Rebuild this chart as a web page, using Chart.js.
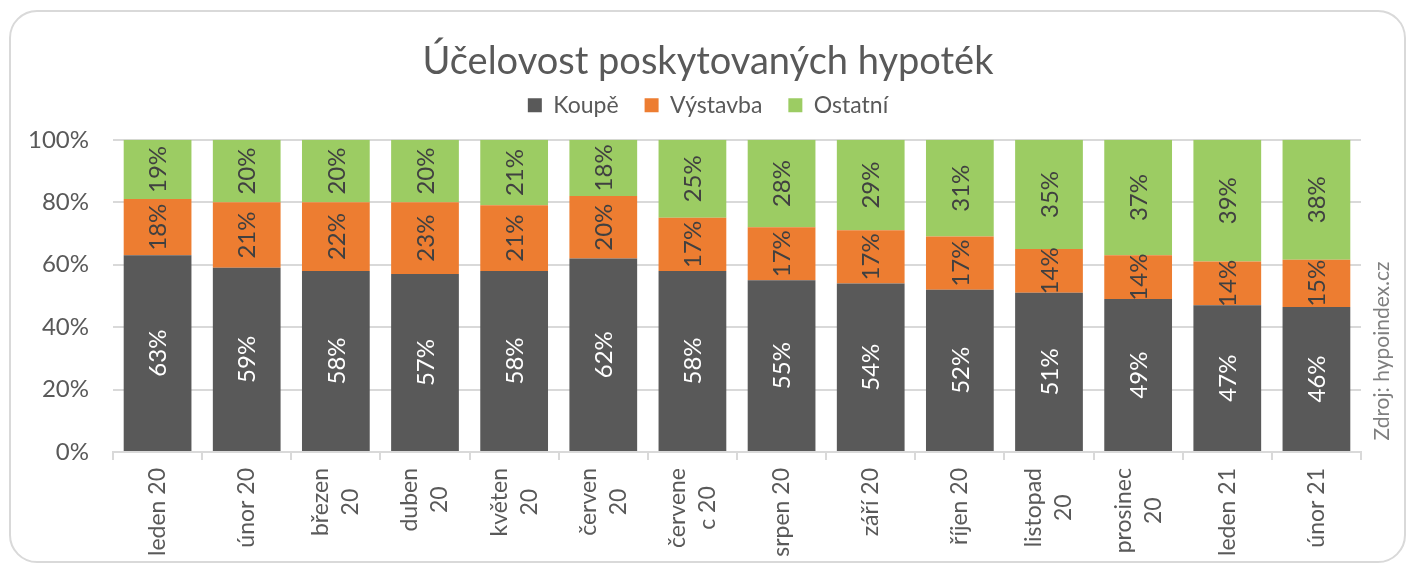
<!DOCTYPE html>
<html>
<head>
<meta charset="utf-8">
<script src="https://cdn.jsdelivr.net/npm/chart.js@4/dist/chart.umd.min.js"></script>
<style>
  html, body { margin: 0; padding: 0; background: #fff; }
  #frame { position: absolute; left: 9px; top: 10px; width: 1393px; height: 549px;
           border: 2px solid #d9d9d9; border-radius: 28px; }
  #wrap { position: absolute; left: 0; top: 0; width: 1416px; height: 570px; }
</style>
</head>
<body>
<div id="frame"></div>
<div id="wrap"><canvas id="chart" width="1416" height="570"></canvas></div>
<script>
// data
const months = ["leden 20", "únor 20", ["březen", "20"], ["duben", "20"], ["květen", "20"],
  ["červen", "20"], ["červene", "c 20"], "srpen 20", "září 20", "říjen 20",
  ["listopad", "20"], ["prosinec", "20"], "leden 21", "únor 21"];
const koupe    = [63, 59, 58, 57, 58, 62, 58, 55, 54, 52, 51, 49, 47, 46];
const vystavba = [18, 21, 22, 23, 21, 20, 17, 17, 17, 17, 14, 14, 14, 15];
const ostatni  = [19, 20, 20, 20, 21, 18, 25, 28, 29, 31, 35, 37, 39, 38];
const yTicks = [0, 20, 40, 60, 80, 100];

const FONT = "Lato";
const GRAY = "#595959";

// 100% stacked like excel: share of the month's total
const totals = koupe.map((v, i) => v + vystavba[i] + ostatni[i]);
const share = arr => arr.map((v, i) => v / totals[i] * 100);

const rawValues = [koupe, vystavba, ostatni];
const labelColors = ["#ffffff", "#404040", "#404040"];

// extra room under the legend and at the right for the source note
const spacers = {
  id: "spacers",
  beforeInit(chart) {
    Chart.layouts.addBox(chart, {
      position: "top", weight: 1, fullSize: true, options: {},
      update(maxW) { this.width = maxW; this.height = 13; },
      isHorizontal() { return true; },
      draw() {}
    });
    Chart.layouts.addBox(chart, {
      position: "right", weight: 1, fullSize: false, options: {},
      update(maxW, maxH) { this.width = 35; this.height = maxH; },
      isHorizontal() { return false; },
      draw() {}
    });
  }
};

// category labels, rotated, lines centred like excel does it
const xLabels = {
  id: "xLabels",
  afterDraw(chart) {
    const ctx = chart.ctx;
    const scale = chart.scales.x;
    const lh = 30;
    ctx.save();
    ctx.font = "23px " + FONT;
    ctx.fillStyle = GRAY;
    ctx.textAlign = "center";
    ctx.textBaseline = "middle";
    months.forEach((m, i) => {
      const lines = Array.isArray(m) ? m : [m];
      const w = Math.max(...lines.map(l => ctx.measureText(l).width));
      ctx.save();
      ctx.translate(scale.getPixelForTick(i), scale.top + 16);
      ctx.rotate(-Math.PI / 2);
      lines.forEach((l, k) => {
        ctx.fillText(l, -w / 2, (k - (lines.length - 1) / 2) * lh);
      });
      ctx.restore();
    });
    ctx.restore();
  }
};

const barLabels = {
  id: "barLabels",
  afterDatasetsDraw(chart) {
    const ctx = chart.ctx;
    ctx.save();
    ctx.font = "24px " + FONT;
    ctx.textAlign = "center";
    ctx.textBaseline = "middle";
    chart.data.datasets.forEach((ds, di) => {
      const meta = chart.getDatasetMeta(di);
      meta.data.forEach((bar, i) => {
        const cy = (bar.y + bar.base) / 2;
        ctx.save();
        ctx.translate(bar.x, cy);
        ctx.rotate(-Math.PI / 2);
        ctx.fillStyle = labelColors[di];
        ctx.fillText(rawValues[di][i] + "%", 0, 1);
        ctx.restore();
      });
    });
    ctx.restore();
  }
};

const sourceNote = {
  id: "sourceNote",
  afterDraw(chart) {
    const ctx = chart.ctx;
    ctx.save();
    ctx.translate(1382, 351);
    ctx.rotate(-Math.PI / 2);
    ctx.font = "21px " + FONT;
    ctx.fillStyle = "#7f7f7f";
    ctx.textAlign = "center";
    ctx.textBaseline = "middle";
    ctx.fillText("Zdroj: hypoindex.cz", 0, 0);
    ctx.restore();
  }
};

new Chart(document.getElementById("chart"), {
  type: "bar",
  data: {
    labels: months,
    datasets: [
      { label: "Koupě", data: share(koupe), backgroundColor: "#595959", borderWidth: 0 },
      { label: "Výstavba", data: share(vystavba), backgroundColor: "#ed7d31", borderWidth: 0 },
      { label: "Ostatní", data: share(ostatni), backgroundColor: "#9ccc63", borderWidth: 0 }
    ]
  },
  options: {
    responsive: false,
    animation: false,
    layout: { padding: { left: 20, right: 20, top: 0, bottom: 10 } },
    datasets: { bar: { barPercentage: 0.76, categoryPercentage: 1 } },
    scales: {
      x: {
        stacked: true,
        grid: { drawOnChartArea: false, drawTicks: true, tickLength: 8, color: "#d9d9d9", lineWidth: 2 },
        border: { color: "#d9d9d9", width: 2 },
        ticks: { display: false },
        afterFit(scale) { scale.height = 108; }
      },
      y: {
        stacked: true,
        min: 0, max: 100,
        afterBuildTicks(scale) { scale.ticks = yTicks.map(v => ({ value: v })); },
        grid: { color: "#d9d9d9", lineWidth: 2, drawTicks: false },
        border: { display: false },
        ticks: { color: GRAY, font: { family: FONT, size: 24 }, padding: 24, callback: v => v + "%" },
        afterFit(scale) { scale.width = 93; }
      }
    },
    plugins: {
      title: {
        display: true,
        text: "Účelovost poskytovaných hypoték",
        color: GRAY,
        font: { family: FONT, size: 38, weight: "normal", lineHeight: 1.1 },
        padding: { top: 41, bottom: -15 }
      },
      legend: {
        display: true,
        labels: {
          color: GRAY,
          font: { family: FONT, size: 23 },
          boxWidth: 14, boxHeight: 14,
          padding: 26
        }
      },
      tooltip: { enabled: false }
    }
  },
  plugins: [spacers, barLabels, xLabels, sourceNote]
});
</script>
</body>
</html>
